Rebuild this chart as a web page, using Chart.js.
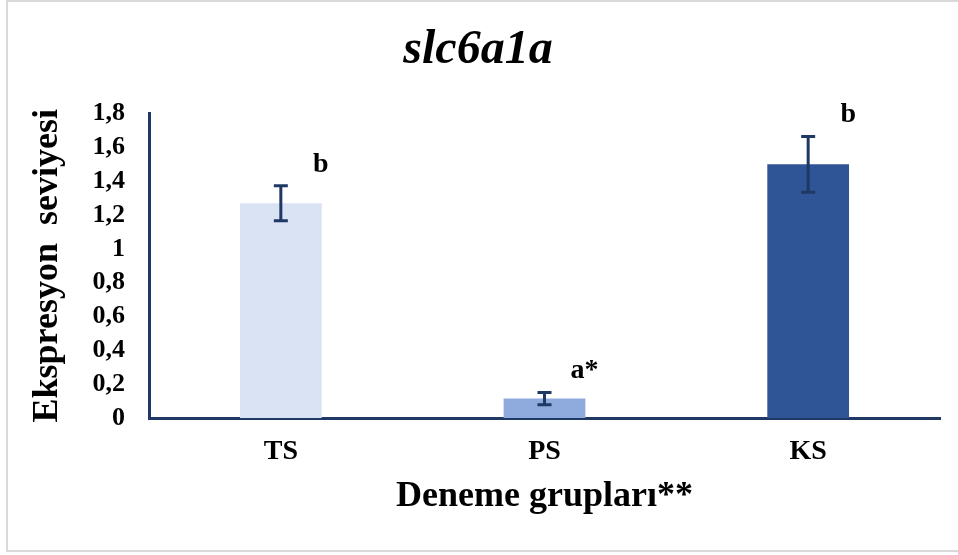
<!DOCTYPE html>
<html>
<head>
<meta charset="utf-8">
<script src="https://cdn.jsdelivr.net/npm/chart.js@4.4.0/dist/chart.umd.min.js"></script>
<style>
  html, body { margin: 0; padding: 0; background: #fff; }
  #wrap { width: 958px; height: 555px; }
</style>
</head>
<body>
<div id="wrap"><canvas id="myChart" width="958" height="555"></canvas></div>
<script>
// data
var groups = ['TS', 'PS', 'KS'];
var expression = [1.27, 0.115, 1.50];
var errors = [0.104, 0.036, 0.165];
var letters = ['b', 'a*', 'b'];
var barColors = ['#dae3f3', '#8faadc', '#2f5597'];
var yTickLabels = ['0', '0,2', '0,4', '0,6', '0,8', '1', '1,2', '1,4', '1,6', '1,8'];

var navy = '#1f3864';
var serif = "'Liberation Serif', 'Times New Roman', serif";

// light grey frame round the picture
var framePlugin = {
  id: 'frame',
  beforeDraw: function(chart) {
    var c = chart.ctx;
    c.save();
    c.fillStyle = '#fff';
    c.fillRect(0, 0, chart.width, chart.height);
    c.strokeStyle = '#d9d9d9';
    c.lineWidth = 2;
    c.beginPath();
    c.moveTo(958, 1);
    c.lineTo(7, 1);
    c.lineTo(7, 551);
    c.lineTo(958, 551);
    c.stroke();
    c.restore();
  }
};

// error bars and significance letters
var errorPlugin = {
  id: 'errorBars',
  afterDatasetsDraw: function(chart) {
    var c = chart.ctx;
    var x = chart.scales.x, y = chart.scales.y;
    c.save();
    c.strokeStyle = navy;
    c.lineWidth = 3;
    for (var i = 0; i < groups.length; i++) {
      var cx = x.getPixelForValue(i);
      var top = y.getPixelForValue(expression[i] + errors[i]);
      var bot = y.getPixelForValue(expression[i] - errors[i]);
      c.beginPath();
      c.moveTo(cx, top); c.lineTo(cx, bot);
      c.moveTo(cx - 7, top); c.lineTo(cx + 7, top);
      c.moveTo(cx - 7, bot); c.lineTo(cx + 7, bot);
      c.stroke();

      c.fillStyle = '#000';
      c.font = 'bold 28px ' + serif;
      c.textAlign = 'center';
      c.textBaseline = 'alphabetic';
      c.fillText(letters[i], cx + 40, top - 14);
    }
    c.restore();
  }
};

var ctx = document.getElementById('myChart').getContext('2d');
var myChart = new Chart(ctx, {
  type: 'bar',
  data: {
    labels: groups,
    datasets: [{
      data: expression,
      backgroundColor: barColors,
      borderWidth: 0,
      categoryPercentage: 1,
      barPercentage: 0.31
    }]
  },
  options: {
    responsive: false,
    animation: false,
    events: [],
    layout: { padding: { left: 16, right: 18, top: 0, bottom: 0 } },
    plugins: {
      legend: { display: false },
      tooltip: { enabled: false },
      title: {
        display: true,
        text: 'slc6a1a',
        color: '#000',
        font: { family: serif, size: 48, weight: 'bold', style: 'italic', lineHeight: 1.2 },
        padding: { top: 22, bottom: 34 }
      }
    },
    scales: {
      x: {
        grid: { display: false, drawTicks: false },
        border: { display: true, color: navy, width: 3 },
        ticks: {
          color: '#000',
          padding: 17,
          font: { family: serif, size: 28, weight: 'bold', lineHeight: 1.2 }
        },
        title: {
          display: true,
          text: 'Deneme grupları**',
          color: '#000',
          font: { family: serif, size: 36, weight: 'bold', lineHeight: 1 },
          padding: { top: 0, bottom: 40 }
        },
        afterFit: function(scale) { scale.height = 137; }
      },
      y: {
        min: 0,
        max: 1.8,
        grid: { display: false, drawTicks: false },
        border: { display: true, color: navy, width: 3 },
        ticks: {
          stepSize: 0.2,
          autoSkip: false,
          color: '#000',
          padding: 24,
          font: { family: serif, size: 26, weight: 'bold', lineHeight: 1.2 },
          callback: function(value, index) { return yTickLabels[index]; }
        },
        title: {
          display: true,
          text: 'Ekspresyon  seviyesi',
          color: '#000',
          font: { family: serif, size: 36, weight: 'bold', lineHeight: 1 },
          padding: { top: 14, bottom: 0 }
        },
        afterFit: function(scale) { scale.width = 133; }
      }
    }
  },
  plugins: [framePlugin, errorPlugin]
});
</script>
</body>
</html>
